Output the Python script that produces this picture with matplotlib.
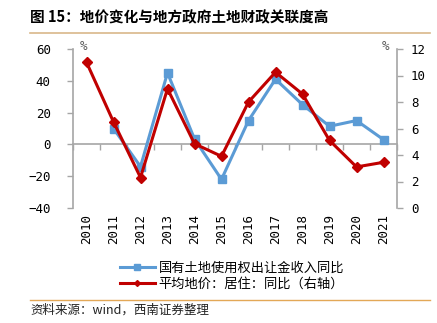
import numpy as np
import matplotlib
matplotlib.use("Agg")
import matplotlib.pyplot as plt
from matplotlib.lines import Line2D

plt.rcParams['font.family'] = ['Noto Sans CJK SC', 'DejaVu Sans']

# datos
years = ['2010', '2011', '2012', '2013', '2014', '2015', '2016', '2017', '2018', '2019', '2020', '2021']
land_income = [np.nan, 10, -14, 45, 3.4, -22, 15, 41, 25, 11.4, 15, 3]
land_price = [11.0, 6.5, 2.3, 9.0, 4.85, 3.9, 8.0, 10.25, 8.6, 5.1, 3.1, 3.45]

label_blue = '国有土地使用权出让金收入同比'
label_red = '平均地价：居住：同比（右轴）'
title = '图 15：地价变化与地方政府土地财政关联度高'
source = '资料来源：wind，西南证券整理'

blue = '#5B9BD5'
red = '#C00000'
gray = '#A6A6A6'
tan = '#D9B88A'
mono = 'DejaVu Sans Mono'

fig = plt.figure(figsize=(4.37, 3.23), dpi=100)
ax = fig.add_axes([73/437, 1-208/323, 324/437, 159/323])
ax2 = ax.twinx()

x = np.arange(len(years))
ax.plot(x, land_income, color=blue, lw=2.2, marker='s', ms=5.5, zorder=3)
ax2.plot(x, land_price, color=red, lw=2.2, marker='D', ms=5.5, zorder=4)

ax.set_xlim(-0.5, len(years)-0.5)
ax.set_ylim(-40, 60)
ax.set_yticks(range(-40, 61, 20))
ax2.set_ylim(0, 12)
ax2.set_yticks(range(0, 13, 2))

for a in (ax, ax2):
    for s in a.spines.values():
        s.set_visible(False)
    a.tick_params(axis='y', colors=gray, labelcolor='black', labelsize=9, length=4, width=1)
    for lbl in a.get_yticklabels():
        lbl.set_family(mono)
ax.tick_params(axis='y', pad=12)
ax2.tick_params(axis='y', pad=6)

ax.spines['left'].set_visible(True)
ax.spines['left'].set_color(gray)
ax.spines['left'].set_linewidth(1.2)
ax2.spines['right'].set_visible(True)
ax2.spines['right'].set_color(gray)
ax2.spines['right'].set_linewidth(1.2)

# eje x en cero con marcas en los bordes de categoría
ax.spines['bottom'].set_visible(True)
ax.spines['bottom'].set_position(('data', 0))
ax.spines['bottom'].set_color(gray)
ax.spines['bottom'].set_linewidth(1.2)
ax.set_xticks(np.arange(-0.5, len(years), 1))
ax.tick_params(axis='x', colors=gray, length=4, width=1, labelbottom=False)
trans = ax.get_xaxis_transform()
for i, y in enumerate(years):
    ax.text(i, -0.04, y, transform=trans, rotation=90, ha='center', va='top',
            family=mono, fontsize=9)

fig.text(80/437, 1-47/323, '%', fontsize=9, color='#595959', family=mono, va='center')
fig.text(382/437, 1-47/323, '%', fontsize=9, color='#595959', family=mono, va='center')

# título y fuente
fig.text(30/437, 1-17/323, title, fontsize=10.5, fontweight='bold', va='center')
fig.add_artist(Line2D([30/437, 430/437], [1-33/323, 1-33/323], color=tan, lw=1.2))
fig.add_artist(Line2D([30/437, 430/437], [1-300/323, 1-300/323], color='#E3A857', lw=1.0))
fig.text(30/437, 1-310/323, source, fontsize=9, style='italic', va='center', color='#222222')

handles = [Line2D([], [], color=blue, lw=2.2, marker='s', ms=4),
           Line2D([], [], color=red, lw=2.2, marker='D', ms=3)]
fig.legend(handles, [label_blue, label_red], loc='center left',
           bbox_to_anchor=(115/437, 1-276/323), frameon=False, fontsize=9.5,
           handlelength=2.6, handletextpad=0.3, labelspacing=0.2, borderaxespad=0)

fig.savefig('out.png', dpi=100)
